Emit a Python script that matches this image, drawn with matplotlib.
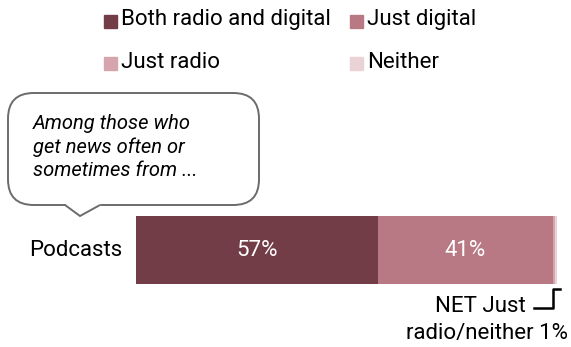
import matplotlib.pyplot as plt
from matplotlib.patches import Rectangle, FancyBboxPatch, Polygon
from matplotlib.lines import Line2D

# Share of podcast news consumers by how they get news
categories = ["Both radio and digital", "Just digital", "Just radio", "Neither"]
values = [57, 41, 0.5, 0.5]
bar_labels = ["57%", "41%", "", ""]
colors = ["#733d47", "#b87985", "#d6a4ad", "#ead3d7"]
row_label = "Podcasts"
net_label = ["NET Just", "radio/neither 1%"]
note = "Among those who\nget news often or\nsometimes from ..."

W, H = 571, 347
plt.rcParams["font.family"] = ["Roboto", "DejaVu Sans"]
FS = 16

fig = plt.figure(figsize=(W / 100, H / 100), dpi=100)


def fx(px):
    return px / W


def fy(py):
    return 1 - py / H


# Bar axes: 0-100% spans 425 px starting at x=136
ax = fig.add_axes([fx(136), fy(284), 425 / W, 68 / H])
left = 0
for val, col, lab in zip(values, colors, bar_labels):
    ax.barh(0, val, left=left, height=1, color=col, edgecolor="none")
    if lab:
        ax.text(left + val / 2, 0, lab, ha="center", va="center",
                color="white", fontsize=FS)
    left += val
ax.set_xlim(0, 100)
ax.set_ylim(-0.5, 0.5)
ax.axis("off")

fig.text(fx(122), fy(251), row_label, ha="right", va="center", fontsize=FS)

# Legend, two columns
legend_pos = [(104, 21), (350, 21), (104, 63), (350, 63)]
for (lx, ly), col, name in zip(legend_pos, colors, categories):
    fig.patches.append(Rectangle((fx(lx), fy(ly + 6.5)), 12.5 / W, 13 / H,
                                 transform=fig.transFigure, color=col))
    fig.text(fx(lx + 17), fy(ly - 1), name, ha="left", va="center", fontsize=FS)

# Callout box with a tail pointing down at the bar row
edge = "#6b6b6b"
box = FancyBboxPatch((fx(8), fy(205)), 251 / W, 112 / H,
                     boxstyle="round,pad=0,rounding_size=0.045",
                     transform=fig.transFigure, facecolor="white",
                     edgecolor=edge, linewidth=1.4, mutation_aspect=W / H)
fig.patches.append(box)
fig.patches.append(Rectangle((fx(66), fy(206.5)), 33 / W, 3 / H,
                             transform=fig.transFigure, color="white"))
tail = Polygon([(fx(65), fy(205)), (fx(80), fy(216)), (fx(100), fy(205))],
               closed=False, transform=fig.transFigure, facecolor="none",
               edgecolor=edge, linewidth=1.4)
fig.patches.append(tail)
fig.text(fx(33), fy(147), note, ha="left", va="center", fontsize=14.5,
         style="italic", linespacing=1.28)

# NET annotation with bracket
fig.text(fx(526), fy(307), net_label[0], ha="right", va="center", fontsize=FS)
fig.text(fx(568), fy(333), net_label[1], ha="right", va="center", fontsize=FS)
fig.lines.append(Line2D([fx(534), fx(553), fx(553), fx(560)],
                        [fy(308), fy(308), fy(289), fy(289)],
                        transform=fig.transFigure, color="black", linewidth=1.8))

fig.savefig("out.png", dpi=100)
